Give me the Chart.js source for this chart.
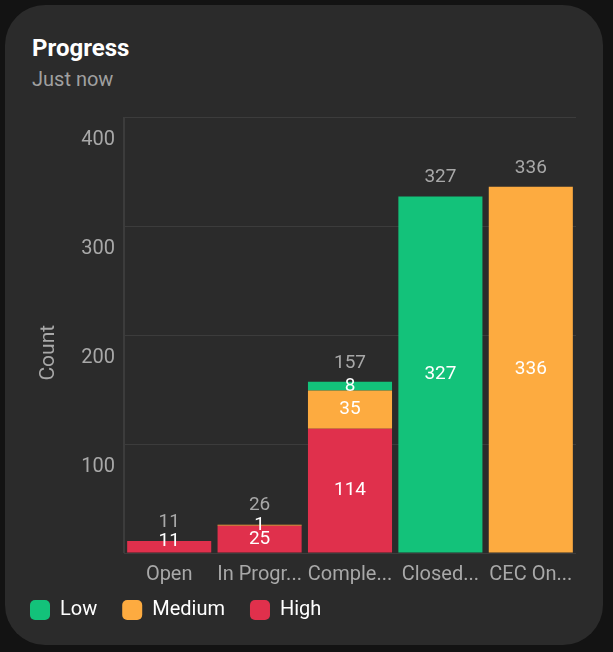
<!DOCTYPE html>
<html>
<head>
<meta charset="utf-8">
<script src="https://cdn.jsdelivr.net/npm/chart.js@4"></script>
<style>
  html, body { margin: 0; padding: 0; background: #131313; }
  body { width: 613px; height: 652px; position: relative; overflow: hidden; font-family: Roboto, sans-serif; }
  .card { position: absolute; left: 5px; top: 5px; width: 598px; height: 640px; background: #2b2b2b; border-radius: 40px; }
  .title { position: absolute; left: 27px; top: 29px; color: #fff; font-size: 24px; font-weight: bold; }
  .sub { position: absolute; left: 27px; top: 62px; color: #a0a0a0; font-size: 20px; }
  .wrap { position: absolute; left: 0; top: 95px; width: 598px; height: 540px; }
</style>
</head>
<body>
<div class="card">
  <div class="title">Progress</div>
  <div class="sub">Just now</div>
  <div class="wrap"><canvas id="progressChart" width="598" height="540"></canvas></div>
</div>
<script>
const categories = ["Open", "In Progr...", "Comple...", "Closed...", "CEC On..."];
const highValues = [11, 25, 114, 0, 0];
const mediumValues = [0, 1, 35, 0, 336];
const lowValues = [0, 0, 8, 327, 0];
const yTicks = [0, 100, 200, 300, 400];

const gridColor = "#3c3c3c";
const mutedText = "#a8a8a8";

// draws segment values and stack totals
const valueLabels = {
    id: "valueLabels",
    afterDatasetsDraw(chart) {
        const ctx = chart.ctx;
        const area = chart.chartArea;
        ctx.save();
        ctx.font = "19px Roboto";
        ctx.textAlign = "center";
        ctx.textBaseline = "middle";
        const tops = {};
        const sums = {};
        chart.data.datasets.forEach((ds, i) => {
            const meta = chart.getDatasetMeta(i);
            meta.data.forEach((bar, j) => {
                const v = ds.data[j];
                if (!v) return;
                sums[j] = (sums[j] || 0) + v;
                tops[j] = Math.min(tops[j] ?? Infinity, bar.y);
                let y = (bar.y + bar.base) / 2;
                y = Math.min(y, area.bottom - 12);
                ctx.fillStyle = "#ffffff";
                ctx.fillText(String(v), bar.x, y);
            });
        });
        const meta0 = chart.getDatasetMeta(0);
        ctx.fillStyle = mutedText;
        Object.keys(sums).forEach(j => {
            ctx.fillText(String(sums[j]), meta0.data[j].x, tops[j] - 19);
        });
        ctx.restore();
    }
};

// pull the legend a little closer to the axis labels
const legendLift = {
    id: "legendLift",
    afterLayout(chart) {
        chart.legend.top -= 22;
        chart.legend.bottom -= 22;
    }
};

new Chart(document.getElementById("progressChart"), {
    type: "bar",
    data: {
        labels: categories,
        datasets: [
            { label: "High", data: highValues, backgroundColor: "#e0304c" },
            { label: "Medium", data: mediumValues, backgroundColor: "#fdab40" },
            { label: "Low", data: lowValues, backgroundColor: "#13c27a" }
        ]
    },
    options: {
        responsive: false,
        animation: false,
        devicePixelRatio: 1,
        layout: { padding: { left: 0, right: 27, top: 17, bottom: -12 } },
        datasets: { bar: { categoryPercentage: 1, barPercentage: 0.93 } },
        plugins: {
            legend: {
                position: "bottom",
                align: "start",
                reverse: true,
                labels: {
                    color: "#ffffff",
                    font: { family: "Roboto", size: 20 },
                    boxWidth: 20,
                    boxHeight: 20,
                    padding: 25,
                    useBorderRadius: true,
                    borderRadius: 5
                }
            },
            tooltip: { enabled: false }
        },
        scales: {
            x: {
                stacked: true,
                grid: {
                    drawTicks: false,
                    color: ctx => (ctx.index === 0 || ctx.index === categories.length) ? gridColor : "transparent"
                },
                border: { display: false },
                ticks: { color: mutedText, font: { family: "Roboto", size: 20 }, padding: 10, maxRotation: 0, autoSkip: false }
            },
            y: {
                stacked: true,
                min: yTicks[0],
                max: yTicks[yTicks.length - 1],
                afterBuildTicks: scale => { scale.ticks = yTicks.map(v => ({ value: v })); },
                grid: { drawTicks: false, color: gridColor },
                border: { display: true, color: gridColor },
                ticks: {
                    color: mutedText,
                    font: { family: "Roboto", size: 20 },
                    padding: 9,
                    labelOffset: 23,
                    callback: v => v === 0 ? "" : String(v)
                },
                title: {
                    display: true,
                    text: "Count\u2007\u2007\u2007",
                    color: mutedText,
                    font: { family: "Roboto", size: 21 },
                    padding: { top: 31, bottom: 0 }
                },
                afterFit: scale => {
                    scale.width = 119;
                    scale.paddingTop = 0;
                    scale.paddingBottom = 0;
                }
            }
        }
    },
    plugins: [valueLabels, legendLift]
});
</script>
</body>
</html>
